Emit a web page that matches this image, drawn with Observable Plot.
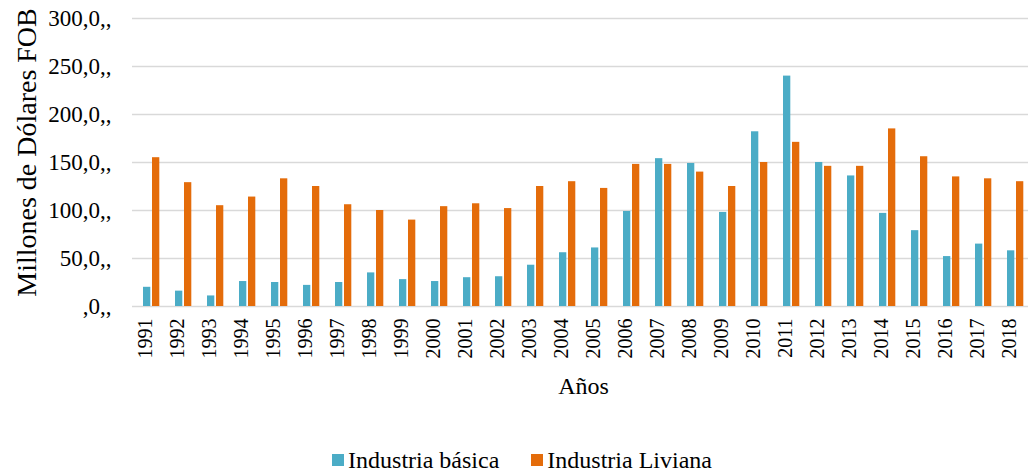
<!DOCTYPE html>
<html>
<head>
<meta charset="utf-8">
<script src="https://cdn.jsdelivr.net/npm/d3@7"></script>
<script src="https://cdn.jsdelivr.net/npm/@observablehq/plot@0.6"></script>
<style>
  html, body { margin: 0; padding: 0; background: #fff; overflow: hidden; }
  #chart svg { display: block; }
  .legend { display: flex; justify-content: center; gap: 32px; margin-top: 27px; padding-left: 16px;
    font-family: "Liberation Serif", "Times New Roman", serif; font-size: 24px; color: #000; line-height: 26px; }
  .legend span.item { display: flex; align-items: center; }
  .legend span.sw { display: inline-block; width: 12px; height: 12px; margin-right: 4px; }
</style>
</head>
<body>
<div id="chart"></div>
<script>
const years = ["1991","1992","1993","1994","1995","1996","1997","1998","1999","2000",
  "2001","2002","2003","2004","2005","2006","2007","2008","2009","2010",
  "2011","2012","2013","2014","2015","2016","2017","2018"];
const seriesNames = ["Industria básica", "Industria Liviana"];
const seriesColors = ["#4bacc6", "#e46c0a"];
const basica = [20, 16, 11, 26, 25, 22, 25, 35, 28, 26,
  30, 31, 43, 56, 61, 99, 154, 149, 98, 182,
  240, 150, 136, 97, 79, 52, 65, 58];
const liviana = [155, 129, 105, 114, 133, 125, 106, 100, 90, 104,
  107, 102, 125, 130, 123, 148, 148, 140, 125, 150,
  171, 146, 146, 185, 156, 135, 133, 130];
const yTicks = [0, 50, 100, 150, 200, 250, 300];
const yTickLabels = [",0,,", "50,0,,", "100,0,,", "150,0,,", "200,0,,", "250,0,,", "300,0,,"];
const yTitle = "Millones de Dólares FOB";
const xTitle = "Años";

const basicaData = years.map((yr, i) => ({year: yr, serie: seriesNames[0], value: basica[i]}));
const livianaData = years.map((yr, i) => ({year: yr, serie: seriesNames[1], value: liviana[i]}));

const serif = "'Liberation Serif', 'Times New Roman', serif";

const chart = Plot.plot({
  width: 1028,
  height: 420,
  marginLeft: 132,
  marginRight: -6,
  marginTop: 18,
  marginBottom: 114,
  style: {fontFamily: serif, fontSize: "20px", color: "#000", background: "#fff", overflow: "visible"},
  x: {domain: years, padding: 0, axis: null},
  y: {domain: [0, 300], axis: null},
  color: {domain: seriesNames, range: seriesColors},
  marks: [
    Plot.ruleY(yTicks, {stroke: "#d9d9d9", strokeWidth: 1.5}),
    Plot.text(yTicks, {y: d => d, frameAnchor: "left", textAnchor: "end", dx: -21,
      text: (d, i) => yTickLabels[i], fontSize: 23, fontFamily: serif, fill: "#000"}),
    Plot.text(years, {x: d => d, frameAnchor: "bottom", textAnchor: "end", rotate: -90, dy: 12,
      fontSize: 20, fontFamily: serif, fill: "#000"}),
    Plot.barY(basicaData, {x: "year", y: "value", fill: "serie", insetLeft: 8, insetRight: 16.7}),
    Plot.barY(livianaData, {x: "year", y: "value", fill: "serie", insetLeft: 17, insetRight: 7.7}),
    Plot.text([yTitle], {frameAnchor: "left", textAnchor: "middle", rotate: -90, dx: -105, dy: -10,
      fontSize: 28, fontFamily: serif, fill: "#000"}),
    Plot.text([xTitle], {frameAnchor: "bottom", textAnchor: "middle", dy: 87, fontSize: 24, fontFamily: serif, fill: "#000"})
  ]
});
document.getElementById("chart").appendChild(chart);

const legend = document.createElement("div");
legend.className = "legend";
seriesNames.forEach((name, i) => {
  const item = document.createElement("span");
  item.className = "item";
  const sw = document.createElement("span");
  sw.className = "sw";
  sw.style.background = seriesColors[i];
  item.appendChild(sw);
  item.appendChild(document.createTextNode(name));
  legend.appendChild(item);
});
document.body.appendChild(legend);
</script>
</body>
</html>
